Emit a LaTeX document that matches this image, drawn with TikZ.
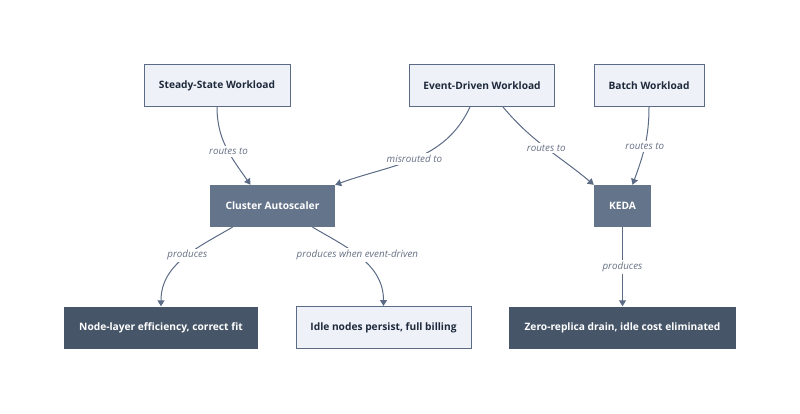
\documentclass[tikz,border=0pt]{standalone}
\usepackage{fontspec}
\setmainfont{Open Sans}
\usetikzlibrary{arrows.meta}
\definecolor{boxline}{HTML}{5B6B86}
\definecolor{lightfill}{HTML}{EEF2F8}
\definecolor{midfill}{HTML}{64748B}
\definecolor{darkfill}{HTML}{475569}
\definecolor{inktext}{HTML}{1E293B}
\definecolor{labeltext}{HTML}{667085}
\begin{document}
\begin{tikzpicture}[
  x=1pt, y=-1pt,
  every node/.style={font=\fontsize{10.2}{12}\selectfont\bfseries, inner sep=0pt, minimum height=42pt},
  lightbox/.style={draw=boxline, fill=lightfill, text=inktext, line width=1pt},
  midbox/.style={draw=none, fill=midfill, text=white},
  darkbox/.style={draw=none, fill=darkfill, text=white},
  link/.style={draw=boxline, line width=1pt, -{Triangle[length=6pt,width=7pt]}},
  edgelabel/.style={font=\fontsize{9.8}{11}\selectfont\itshape, text=labeltext, fill=white,
    minimum height=0pt, inner sep=2pt}
]
\useasboundingbox (0,0) rectangle (800,414);
% sources
\node[lightbox, minimum width=146pt] (ssw) at (217,85.5) {Steady-State Workload};
\node[lightbox, minimum width=145pt] (edw) at (482,85.5) {Event-Driven Workload};
\node[lightbox, minimum width=110pt] (bw) at (649,85.5) {Batch Workload};
% scalers
\node[midbox, minimum width=125pt] (cas) at (272.5,206) {Cluster Autoscaler};
\node[midbox, minimum width=57pt] (keda) at (622.5,206) {KEDA};
% outcomes
\node[darkbox, minimum width=194pt] (nle) at (161,327.5) {Node-layer efficiency, correct fit};
\node[lightbox, minimum width=175pt] (inp) at (383.5,327.5) {Idle nodes persist, full billing};
\node[darkbox, minimum width=227pt] (zrd) at (622.5,327.5) {Zero-replica drain, idle cost eliminated};

\draw[link] (ssw.south) to[out=-90, in=125] node[edgelabel, pos=0.55] {routes to} ([xshift=-22pt]cas.north);
\draw[link] ([xshift=-12pt]edw.south) to[out=-115, in=20] node[edgelabel, pos=0.5] {misrouted to} (cas.north east);
\draw[link] ([xshift=21pt]edw.south) to[out=-50, in=140] node[edgelabel, pos=0.5] {routes to} (keda.north west);
\draw[link] (bw.south) to[out=-90, in=70] node[edgelabel, pos=0.5] {routes to} ([xshift=10pt]keda.north);
\draw[link] ([xshift=-40pt]cas.south) to[out=-150, in=90] node[edgelabel, pos=0.45] {produces} (nle.north);
\draw[link] ([xshift=40pt]cas.south) to[out=-30, in=90] node[edgelabel, pos=0.45] {produces when event-driven} (inp.north);
\draw[link] (keda.south) -- node[edgelabel] {produces} (zrd.north);
\end{tikzpicture}
\end{document}
